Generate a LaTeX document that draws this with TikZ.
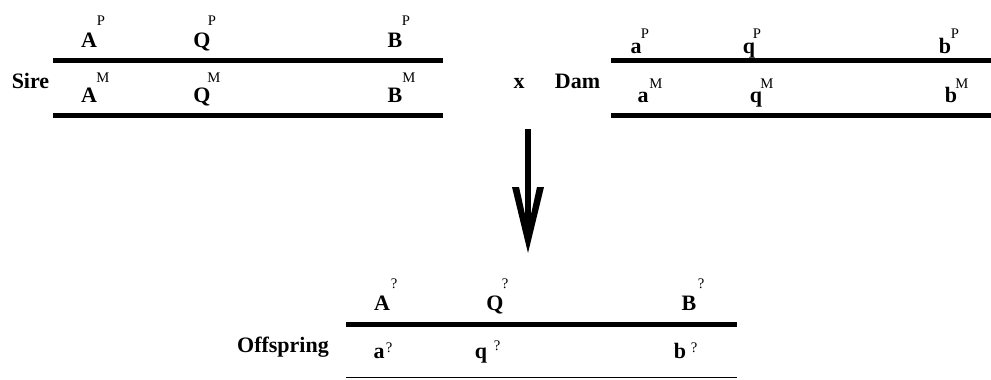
\documentclass[tikz,border=0pt]{standalone}
\usepackage{fontspec}
\setmainfont{Liberation Serif}
\usepackage{tikz}
\usetikzlibrary{positioning}

\begin{document}
\begin{tikzpicture}[x=0.75pt, y=-0.75pt,
    gene/.style={font=\bfseries\fontsize{16.5}{18}\selectfont, inner sep=0pt, anchor=base},
    tag/.style={font=\fontsize{11}{12}\selectfont, inner sep=0pt, anchor=base},
    who/.style={font=\bfseries\fontsize{16.5}{18}\selectfont, inner sep=0pt, anchor=base},
    chrom/.style={line width=3.75pt},
    thin/.style={line width=1.1pt}]
  \useasboundingbox (0,0) rectangle (991,379);

  % sire
  \node[who] (sire) at (30.5,88) {Sire};
  \coordinate (sireP0) at (53,60);    \coordinate (sireP1) at (443,60);
  \coordinate (sireM0) at (53,115.5); \coordinate (sireM1) at (443,115.5);
  \draw[chrom] (sireP0) -- (sireP1);
  \draw[chrom] (sireM0) -- (sireM1);
  \node[gene] (sA1) at (89,47) {A};   \node[tag] (sA1t) at (101,25) {P};
  \node[gene] (sQ1) at (202,47) {Q};  \node[tag] (sQ1t) at (212,25) {P};
  \node[gene] (sB1) at (395,47) {B};  \node[tag] (sB1t) at (406,25) {P};
  \node[gene] (sA2) at (89,102) {A};  \node[tag] (sA2t) at (103,82) {M};
  \node[gene] (sQ2) at (202,102) {Q}; \node[tag] (sQ2t) at (214,82) {M};
  \node[gene] (sB2) at (395,102) {B}; \node[tag] (sB2t) at (409,82) {M};

  \node[who] (cross) at (519,88) {x};

  % dam
  \node[who] (dam) at (577.5,88) {Dam};
  \coordinate (damP0) at (611,60);    \coordinate (damP1) at (991,60);
  \coordinate (damM0) at (611,115.5); \coordinate (damM1) at (991,115.5);
  \draw[chrom] (damP0) -- (damP1);
  \draw[chrom] (damM0) -- (damM1);
  \node[gene] (da1) at (636,53) {a};  \node[tag] (da1t) at (645,38) {P};
  \node[gene] (dq1) at (749,53) {q};  \node[tag] (dq1t) at (757,38) {P};
  \node[gene] (db1) at (945,53) {b};  \node[tag] (db1t) at (955,38) {P};
  \node[gene] (da2) at (643,102) {a}; \node[tag] (da2t) at (656,88) {M};
  \node[gene] (dq2) at (756,102) {q}; \node[tag] (dq2t) at (767,88) {M};
  \node[gene] (db2) at (951,102) {b}; \node[tag] (db2t) at (962,88) {M};

  % arrow to offspring
  \coordinate (from) at (528,129);
  \coordinate (to) at (528,253);
  \draw[line width=4.5pt] (from) -- ([yshift=10pt]to);
  \fill ([shift={(-16,-66)}]to) -- (to) -- ([shift={(16,-66)}]to)
        -- ([shift={(9,-66)}]to) -- ([shift={(0,-25)}]to)
        -- ([shift={(-9,-66)}]to) -- cycle;

  % offspring
  \node[who] (off) at (283,352) {Offspring};
  \coordinate (offP0) at (346,324.5); \coordinate (offP1) at (737,324.5);
  \coordinate (offM0) at (346,377.5); \coordinate (offM1) at (737,377.5);
  \draw[chrom] (offP0) -- (offP1);
  \draw[thin] (offM0) -- (offM1);
  \node[gene] (oA) at (382,310) {A};  \node[tag] (oAt) at (394,288) {?};
  \node[gene] (oQ) at (495,310) {Q};  \node[tag] (oQt) at (505,288) {?};
  \node[gene] (oB) at (689,310) {B};  \node[tag] (oBt) at (701,288) {?};
  \node[gene] (oa) at (379,358) {a};  \node[tag] (oat) at (389,352) {?};
  \node[gene] (oq) at (481,358) {q};  \node[tag] (oqt) at (497,350) {?};
  \node[gene] (ob) at (680,358) {b};  \node[tag] (obt) at (694,352) {?};
\end{tikzpicture}
\end{document}
